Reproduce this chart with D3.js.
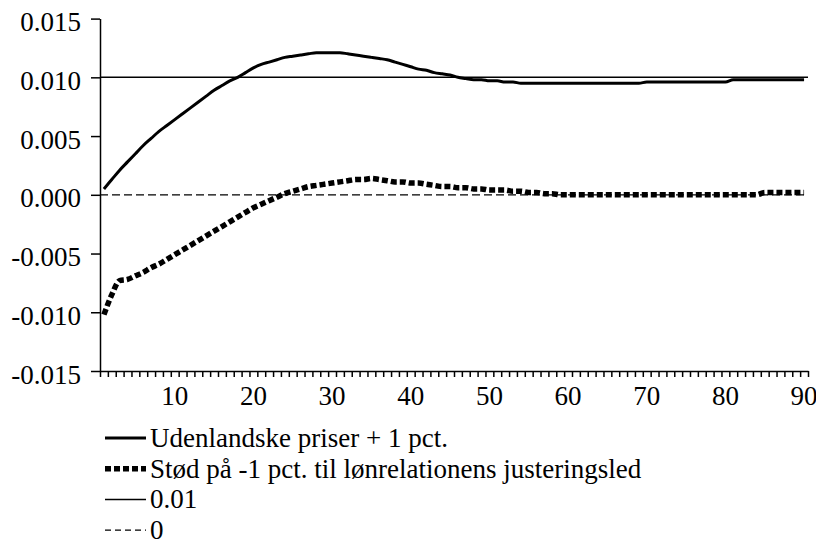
<!DOCTYPE html>
<html>
<head>
<meta charset="utf-8">
<script src="https://cdn.jsdelivr.net/npm/d3@7"></script>
</head>
<body style="margin:0">
<svg id="viz" width="816" height="540"></svg>
<script>
var fontFam = "Liberation Serif";
var fontSize = 27;

// periods 1..90
var periods = [];
for (var i = 1; i <= 90; i++) periods.push(i);

var udenlandske = [
  0.0005, 0.0013, 0.0021, 0.0028, 0.0035, 0.0042, 0.0048, 0.0054, 0.0059, 0.0064,
  0.0069, 0.0074, 0.0079, 0.0084, 0.0089, 0.0093, 0.0097, 0.0100, 0.0104, 0.0108,
  0.0111, 0.0113, 0.0115, 0.0117, 0.0118, 0.0119, 0.0120, 0.0121, 0.0121, 0.0121,
  0.0121, 0.0120, 0.0119, 0.0118, 0.0117, 0.0116, 0.0115, 0.0113, 0.0111, 0.0109,
  0.0107, 0.0106, 0.0104, 0.0103, 0.0102, 0.0100, 0.0099, 0.0098, 0.0098, 0.0097,
  0.0097, 0.0096, 0.0096, 0.0095, 0.0095, 0.0095, 0.0095, 0.0095, 0.0095, 0.0095,
  0.0095, 0.0095, 0.0095, 0.0095, 0.0095, 0.0095, 0.0095, 0.0095, 0.0095, 0.0096,
  0.0096, 0.0096, 0.0096, 0.0096, 0.0096, 0.0096, 0.0096, 0.0096, 0.0096, 0.0096,
  0.0098, 0.0098, 0.0098, 0.0098, 0.0098, 0.0098, 0.0098, 0.0098, 0.0098, 0.0098
];

var stod = [
  -0.0102, -0.0085, -0.0073, -0.0072, -0.0069, -0.0066, -0.0062, -0.0059, -0.0055, -0.0051,
  -0.0047, -0.0043, -0.0039, -0.0035, -0.0031, -0.0027, -0.0023, -0.0019, -0.0015, -0.0011,
  -0.0008, -0.0005, -0.0002, 0.0001, 0.0003, 0.0005, 0.0007, 0.0008, 0.0009, 0.0010,
  0.0011, 0.0012, 0.0013, 0.0013, 0.0014, 0.0013, 0.0012, 0.0011, 0.0011, 0.0010,
  0.0010, 0.0009, 0.0008, 0.0007, 0.0007, 0.0006, 0.0006, 0.0005, 0.0005, 0.0004,
  0.0004, 0.0004, 0.0003, 0.0003, 0.0002, 0.0002, 0.0001, 0.0001, 0.0000, 0.0000,
  0.0000, 0.0000, 0.0000, 0.0000, 0.0000, 0.0000, 0.0000, 0.0000, 0.0000, 0.0000,
  0.0000, 0.0000, 0.0000, 0.0000, 0.0000, 0.0000, 0.0000, 0.0000, 0.0000, 0.0000,
  0.0000, 0.0000, 0.0000, 0.0000, 0.0002, 0.0002, 0.0002, 0.0002, 0.0002, 0.0002
];

var refLevels = [0.01, 0];
var yTicks = [-0.015, -0.010, -0.005, 0.000, 0.005, 0.010, 0.015];
var xLabels = [10, 20, 30, 40, 50, 60, 70, 80, 90];
var legendNames = [
  "Udenlandske priser + 1 pct.",
  "Stød på -1 pct. til lønrelationens justeringsled",
  "0.01",
  "0"
];

var svg = d3.select("#viz");

var x = d3.scaleLinear().domain([0.5, 90.5]).range([100, 808]);
var y = d3.scaleLinear().domain([-0.015, 0.015]).range([371, 18.6]);

var loc = d3.formatLocale({decimal: ".", thousands: ",", grouping: [3], currency: ["", ""], minus: "-"});
var fmt = loc.format(".3f");

// y axis ticks
svg.append("g")
  .attr("transform", "translate(100,0)")
  .call(d3.axisLeft(y).tickValues(yTicks).tickFormat("").tickSize(9).tickSizeOuter(0));

// x axis: boundary ticks
var bounds = [];
for (var k = 0; k <= 90; k++) bounds.push(k + 0.5);
svg.append("g")
  .attr("transform", "translate(0,371)")
  .call(d3.axisBottom(x).tickValues(bounds).tickFormat("").tickSize(6).tickSizeOuter(0));

svg.selectAll(".domain, .tick line").attr("stroke", "#000").attr("stroke-width", 1.5);

// y labels, straight on the svg
yTicks.forEach(function(d) {
  svg.append("text")
    .attr("x", 81).attr("y", y(d) + 12.5)
    .attr("font-family", fontFam).attr("font-size", fontSize)
    .attr("text-anchor", "end")
    .text(fmt(d));
});

// x labels
xLabels.forEach(function(d) {
  svg.append("text")
    .attr("x", x(d)).attr("y", 405)
    .attr("font-family", fontFam).attr("font-size", fontSize)
    .attr("text-anchor", "middle")
    .text(d);
});

// reference lines
svg.append("line")
  .attr("x1", x(0.5)).attr("x2", x(90.5))
  .attr("y1", y(refLevels[0])).attr("y2", y(refLevels[0]))
  .attr("stroke", "#000").attr("stroke-width", 1.5);
svg.append("line")
  .attr("x1", x(0.5)).attr("x2", x(90.5))
  .attr("y1", y(refLevels[1])).attr("y2", y(refLevels[1]))
  .attr("stroke", "#000").attr("stroke-width", 1.3).attr("stroke-dasharray", "8,4");

var line = d3.line()
  .x(function(d, i) { return x(periods[i]); })
  .y(function(d) { return y(d); })
  .curve(d3.curveMonotoneX);

svg.append("path")
  .datum(udenlandske)
  .attr("d", line)
  .attr("fill", "none").attr("stroke", "#000").attr("stroke-width", 3);

svg.append("path")
  .datum(stod)
  .attr("d", line)
  .attr("fill", "none").attr("stroke", "#000").attr("stroke-width", 5.5)
  .attr("stroke-dasharray", "6,3");

// legend
var styles = [
  {w: 3, dash: null},
  {w: 5.5, dash: "6,3"},
  {w: 1.5, dash: null},
  {w: 1.3, dash: "6,4"}
];
legendNames.forEach(function(name, i) {
  var ly = 438 + i * 30.7;
  svg.append("line")
    .attr("x1", 105).attr("x2", 146)
    .attr("y1", ly).attr("y2", ly)
    .attr("stroke", "#000").attr("stroke-width", styles[i].w)
    .attr("stroke-dasharray", styles[i].dash);
  svg.append("text")
    .attr("x", 150).attr("y", ly + 9)
    .attr("font-family", fontFam).attr("font-size", fontSize)
    .text(name);
});
</script>
</body>
</html>
